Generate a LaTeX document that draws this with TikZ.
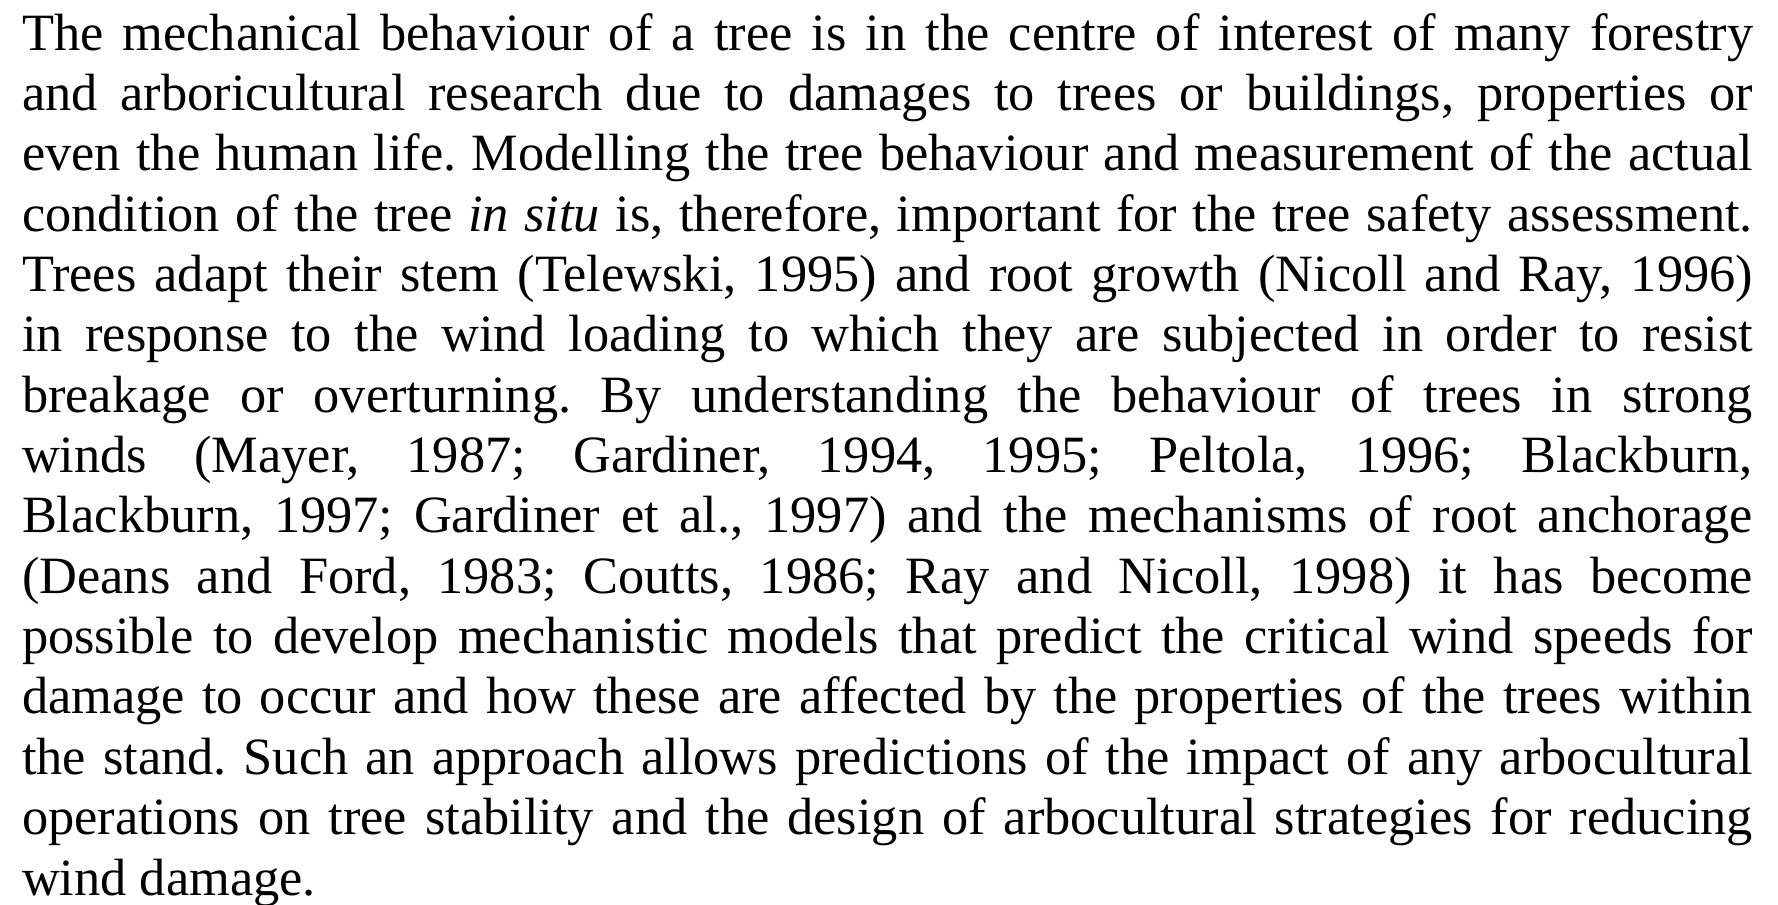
\documentclass[tikz,border=0pt]{standalone}
\usepackage{fontspec}
\setmainfont{Liberation Serif}
\frenchspacing
\newcommand{\jline}[1]{\makebox[432.75pt][s]{#1}}
\tikzset{
  txtline/.style={inner sep=0pt, outer sep=0pt, anchor=base west, font=\fontsize{13.1pt}{15pt}\selectfont}
}
\begin{document}
\begin{tikzpicture}[x=0.25pt,y=-0.25pt]
\useasboundingbox (0,0) rectangle (1778,904);
\node[txtline] (l1) at (22,50) {\jline{The mechanical behaviour of a tree is in the centre of interest of many forestry}};
\node[txtline] (l2) at (22,110.36) {\jline{and arboricultural research due to damages to trees or buildings, properties or}};
\node[txtline] (l3) at (22,170.72) {\jline{even the human life. Modelling the tree behaviour and measurement of the actual}};
\node[txtline] (l4) at (22,231.08) {\jline{condition of the tree \textit{in situ} is, therefore, important for the tree safety assessment.}};
\node[txtline] (l5) at (22,291.44) {\jline{Trees adapt their stem (Telewski, 1995) and root growth (Nicoll and Ray, 1996)}};
\node[txtline] (l6) at (22,351.8) {\jline{in response to the wind loading to which they are subjected in order to resist}};
\node[txtline] (l7) at (22,412.16) {\jline{breakage or overturning. By understanding the behaviour of trees in strong}};
\node[txtline] (l8) at (22,472.52) {\jline{winds (Mayer, 1987; Gardiner, 1994, 1995; Peltola, 1996; Blackburn,}};
\node[txtline] (l9) at (22,532.88) {\jline{Blackburn, 1997; Gardiner et al., 1997) and the mechanisms of root anchorage}};
\node[txtline] (l10) at (22,593.24) {\jline{(Deans and Ford, 1983; Coutts, 1986; Ray and Nicoll, 1998) it has become}};
\node[txtline] (l11) at (22,653.6) {\jline{possible to develop mechanistic models that predict the critical wind speeds for}};
\node[txtline] (l12) at (22,713.96) {\jline{damage to occur and how these are affected by the properties of the trees within}};
\node[txtline] (l13) at (22,774.32) {\jline{the stand. Such an approach allows predictions of the impact of any arbocultural}};
\node[txtline] (l14) at (22,834.68) {\jline{operations on tree stability and the design of arbocultural strategies for reducing}};
\node[txtline] (l15) at (22,895.04) {wind damage.};
\end{tikzpicture}
\end{document}
